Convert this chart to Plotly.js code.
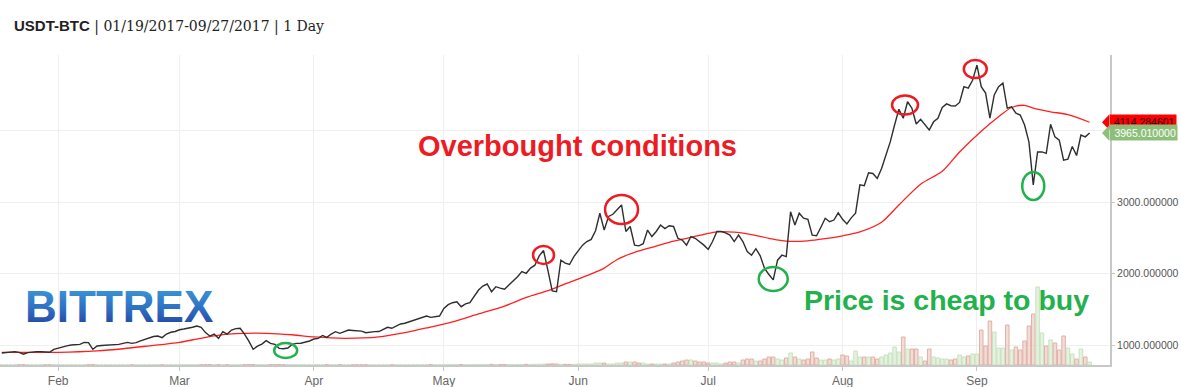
<!DOCTYPE html>
<html>
<head>
<meta charset="utf-8">
<script src="https://cdn.plot.ly/plotly-3.0.1.min.js"></script>
<style>html,body{margin:0;padding:0;background:#fff;}#chart{width:1181px;height:387px;}</style>
</head>
<body>
<div id="chart"></div>
<script>
// ---- Data ----
// Daily USDT-BTC closes, month by month (January starts on the 19th)
const priceJan = [895,900,905,915,905,878,900,910,915,915,910,905,945];
const priceFeb = [965,983,995,1007,1010,1016,1044,1040,947,993,1000,1002,1007,1010,1016,1030,1044,1030,1040,1065,1086,1110,1125,1132,1110,1160,1185,1195];
const priceMar = [1220,1230,1240,1255,1272,1254,1180,1132,1160,1100,1193,1160,1216,1235,1240,1160,1060,947,990,1020,1067,1030,1016,960,955,965,1016,1030,1032,1045,1063];
const priceApr = [1090,1100,1140,1114,1160,1193,1170,1195,1216,1210,1206,1200,1179,1190,1193,1195,1225,1254,1240,1270,1300,1310,1330,1346,1370,1395,1411,1393,1405,1411];
const priceMay = [1518,1570,1597,1611,1541,1580,1597,1680,1774,1830,1858,1750,1820,1800,1784,1844,1900,1960,2030,2007,2080,2120,2250,2325,2050,1760,1750,2190,2150,2130,2240];
const priceJun = [2320,2400,2450,2480,2600,2845,2610,2800,2830,2890,2960,2590,2660,2400,2390,2420,2610,2520,2590,2680,2630,2670,2660,2495,2470,2400,2520,2495,2450,2400];
const priceJul = [2340,2450,2590,2590,2570,2540,2450,2540,2450,2310,2260,2350,2250,2075,1990,1915,2190,2260,2240,2866,2680,2845,2775,2760,2540,2530,2650,2775,2727,2750,2850];
const priceAug = [2760,2695,2780,2845,3240,3230,3410,3400,3330,3470,3650,3840,4075,4295,4170,4400,4310,4090,4155,4075,4005,4120,4170,4320,4370,4345,4340,4390,4610,4590,4700];
const priceSep = [4910,4610,4520,4170,4495,4610,4660,4310,4330,4240,4215,4075,3840,3240,3700,3700,3680,4085,3910,3865,3585,3600,3775,3650,3935,3910,3965];

// Daily volume (relative units), same days
const volJan = [0.2,0.2,0.2,0.2,0.2,0.3,0.2,0.2,0.2,0.2,0.2,0.2,0.3];
const volFeb = [0.2,0.2,0.2,0.2,0.2,0.2,0.2,0.3,0.4,0.3,0.2,0.2,0.2,0.2,0.2,0.2,0.2,0.2,0.2,0.2,0.2,0.3,0.3,0.3,0.2,0.2,0.3,0.2];
const volMar = [0.3,0.3,0.3,0.3,0.3,0.3,0.3,0.4,0.3,0.4,0.3,0.3,0.3,0.3,0.3,0.3,0.4,0.5,0.4,0.3,0.3,0.3,0.3,0.4,0.3,0.3,0.3,0.3,0.3,0.3,0.3];
const volApr = [0.3,0.3,0.3,0.3,0.3,0.3,0.3,0.2,0.2,0.2,0.2,0.2,0.2,0.2,0.2,0.2,0.2,0.2,0.2,0.3,0.3,0.2,0.2,0.3,0.3,0.3,0.4,0.3,0.3,0.3];
const volMay = [0.4,0.4,0.5,0.5,0.5,0.4,0.4,0.5,0.6,0.6,0.6,0.6,0.5,0.4,0.5,0.5,0.5,0.6,0.6,0.6,0.6,0.7,0.8,1,1,1.2,1,0.8,0.7,0.6,0.7];
const volJun = [1,1,1,1,2,2,2,1,1,2,2,3,3,3,2,2,1,1,1,1,1,1,2,3,4,5,5,4,3,3];
const volJul = [2,2,2,1,2,3,3,2,5,6,6,4,4,6,8,8,6,5,7,12,8,6,5,6,13,7,5,5,6,5,6];
const volAug = [10,9,4,14,8,8,8,8,6,8,10,12,18,13,28,16,16,16,8,4,16,8,7,6,6,5,6,10,8,9,11];
const volSep = [11,35,19,44,33,17,17,40,15,18,15,24,39,51,78,32,19,25,22,15,29,17,11,6,16,8,3];

// Moving average (red line), read at intervals
const maDates = ['2017-01-19','2017-01-26','2017-02-01','2017-02-10','2017-02-16','2017-02-22','2017-03-01','2017-03-05','2017-03-09','2017-03-14','2017-03-21','2017-03-27','2017-04-01','2017-04-08','2017-04-16','2017-04-22','2017-04-27','2017-05-03','2017-05-09','2017-05-15','2017-05-20','2017-05-25','2017-05-29','2017-06-03','2017-06-07','2017-06-10','2017-06-14','2017-06-18','2017-06-22','2017-06-26','2017-06-30','2017-07-03','2017-07-07','2017-07-11','2017-07-15','2017-07-19','2017-07-24','2017-07-28','2017-08-01','2017-08-05','2017-08-10','2017-08-14','2017-08-19','2017-08-24','2017-08-28','2017-09-02','2017-09-06','2017-09-09','2017-09-12','2017-09-14','2017-09-18','2017-09-22','2017-09-27'];
const maValues = [905,905,905,925,955,995,1045,1090,1135,1165,1170,1150,1120,1100,1120,1180,1245,1330,1440,1550,1670,1765,1860,1975,2080,2200,2300,2370,2440,2495,2550,2585,2580,2545,2495,2455,2460,2490,2530,2585,2720,2960,3250,3430,3700,3990,4190,4320,4350,4310,4260,4220,4114];

const lastMA = '4114.284601';
const lastPrice = '3965.010000';
const monthTicks = ['2017-02-01','2017-03-01','2017-04-01','2017-05-01','2017-06-01','2017-07-01','2017-08-01','2017-09-01'];
const monthLabels = ['Feb','Mar','Apr','May','Jun','Jul','Aug','Sep'];
const yTicks = [1000,2000,3000,4000];
const yTickText = ['1000.000000','2000.000000','3000.000000',''];

// ---- Build series ----
const months = [
  {m:1, start:19, p:priceJan, v:volJan},
  {m:2, start:1, p:priceFeb, v:volFeb},
  {m:3, start:1, p:priceMar, v:volMar},
  {m:4, start:1, p:priceApr, v:volApr},
  {m:5, start:1, p:priceMay, v:volMay},
  {m:6, start:1, p:priceJun, v:volJun},
  {m:7, start:1, p:priceJul, v:volJul},
  {m:8, start:1, p:priceAug, v:volAug},
  {m:9, start:1, p:priceSep, v:volSep}
];
const pad = n => (n < 10 ? '0' : '') + n;
const dates = [], price = [], volume = [];
months.forEach(o => {
  o.p.forEach((val, i) => {
    dates.push('2017-' + pad(o.m) + '-' + pad(o.start + i));
    price.push(val);
    volume.push(o.v[i]);
  });
});
const barFill = [], barLine = [];
price.forEach((p, i) => {
  const up = i === 0 || p >= price[i - 1];
  barFill.push(up ? 'rgba(220,238,212,0.75)' : 'rgba(234,196,186,0.6)');
  barLine.push(up ? 'rgba(196,224,186,0.9)' : 'rgba(222,172,160,0.9)');
});

const traces = [
  {type:'bar', x:dates, y:volume, xaxis:'x', yaxis:'y', width:86400000*0.82,
   marker:{color:barFill, line:{color:barLine, width:1}}, hoverinfo:'skip'},
  {type:'scatter', mode:'lines', x:maDates, y:maValues, xaxis:'x', yaxis:'y2',
   line:{color:'#ff1f1f', width:1.3, shape:'spline', smoothing:0.8}, hoverinfo:'skip'},
  {type:'scatter', mode:'lines', x:dates, y:price, xaxis:'x', yaxis:'y2',
   line:{color:'#2e2e2e', width:1.4}, hoverinfo:'skip'}
];

const RED = '#ed1c24', GREEN = '#22b14c';
function ring(xc, yc, w, h, color) {
  return {type:'circle', xref:'x', yref:'y2', xsizemode:'pixel', ysizemode:'pixel',
    xanchor:xc, yanchor:yc, x0:-w/2, x1:w/2, y0:-h/2, y1:h/2,
    line:{color:color, width:2.5}, fillcolor:'rgba(0,0,0,0)', layer:'above'};
}
function tip(yv, color) {
  return {type:'path', xref:'paper', yref:'y2', xsizemode:'pixel', ysizemode:'pixel',
    xanchor:1, yanchor:yv, path:'M -8 0 L -1 7.5 L -1 -7.5 Z',
    fillcolor:color, line:{width:0}, layer:'above'};
}

const shapes = [
  ring('2017-05-24', 2262, 21, 18, RED),
  ring('2017-06-11', 2897, 33, 29, RED),
  ring('2017-08-15 10:00', 4354, 26, 19, RED),
  ring('2017-08-31 15:00', 4856, 23, 18, RED),
  ring('2017-03-25 12:00', 930, 23, 15, GREEN),
  ring('2017-07-16', 1927, 29, 24, GREEN),
  ring('2017-09-14', 3225, 22, 28, GREEN),
  tip(4114.28, '#ff0000'),
  tip(3965.01, '#8dbf7b')
];

const sans = 'Liberation Sans, Arial, Helvetica, sans-serif';
const annotations = [
  {xref:'paper', yref:'paper', x:12/1110, y:1.0926, xanchor:'left', yanchor:'middle', showarrow:false,
   text:'<span style="font-family:Liberation Sans, Arial, sans-serif;font-weight:bold;font-size:15px">USDT-BTC</span> | 01/19/2017-09/27/2017 | 1 Day',
   font:{family:'DejaVu Serif, serif', size:14, color:'#222'}},
  {xref:'paper', yref:'paper', x:577/1110, y:0.7065, xanchor:'center', yanchor:'middle', showarrow:false,
   text:'<b>Overbought conditions</b>', font:{family:sans, size:29, color:RED}},
  {xref:'paper', yref:'paper', x:947/1110, y:0.2097, xanchor:'center', yanchor:'middle', showarrow:false,
   text:'<b>Price is cheap to buy</b>', font:{family:sans, size:28.5, color:GREEN}},
  {xref:'paper', yref:'paper', x:119/1110, y:0.188, xanchor:'center', yanchor:'middle', showarrow:false,
   text:'<b>BITTREX</b>', font:{family:sans, size:44, color:'#2b62b8'}},
  {xref:'paper', yref:'y2', x:1, y:4114.28, xanchor:'left', yanchor:'middle', xshift:-1, showarrow:false,
   text:'&nbsp;' + lastMA, align:'left', bgcolor:'#ff0000', borderpad:1,
   font:{family:sans, size:10.5, color:'#2a0000'}},
  {xref:'paper', yref:'y2', x:1, y:3965.01, xanchor:'left', yanchor:'middle', xshift:-1, showarrow:false,
   text:'&nbsp;' + lastPrice, align:'left', bgcolor:'#8dbf7b', borderpad:1.5,
   font:{family:sans, size:10.5, color:'#ffffff'}}
];

const layout = {
  width:1181, height:387,
  margin:{l:0, r:71, t:55, b:22, pad:0},
  paper_bgcolor:'#ffffff', plot_bgcolor:'#ffffff',
  showlegend:false, bargap:0,
  xaxis:{type:'date', range:['2017-01-18 14:00','2017-10-01 17:00'],
    tickvals:monthTicks, ticktext:monthLabels,
    showgrid:true, gridcolor:'#efefef', gridwidth:1,
    ticks:'outside', ticklen:4, tickcolor:'#c8c8c8', tickwidth:1,
    showline:true, linecolor:'#c8c8c8', linewidth:2,
    tickfont:{family:sans, size:12, color:'#666'}, zeroline:false, fixedrange:true},
  yaxis:{range:[0,310], visible:false, showgrid:false, zeroline:false, fixedrange:true},
  yaxis2:{overlaying:'y', side:'right', range:[728,5052],
    tickvals:yTicks, ticktext:yTickText,
    showgrid:true, gridcolor:'#efefef', gridwidth:1,
    showline:true, linecolor:'#c8c8c8', linewidth:2,
    ticks:'outside', ticklen:3, tickcolor:'#c8c8c8',
    tickfont:{family:sans, size:10.5, color:'#555'}, zeroline:false, fixedrange:true},
  shapes:shapes,
  annotations:annotations
};

Plotly.newPlot('chart', traces, layout, {staticPlot:true, displayModeBar:false}).then(() => {
  // blue gradient on the BITTREX logo text
  const svg = document.querySelector('#chart svg.main-svg');
  const ns = 'http://www.w3.org/2000/svg';
  let defs = svg.querySelector('defs');
  if (!defs) { defs = document.createElementNS(ns, 'defs'); svg.insertBefore(defs, svg.firstChild); }
  const g = document.createElementNS(ns, 'linearGradient');
  g.setAttribute('id', 'bxgrad'); g.setAttribute('x1', '0'); g.setAttribute('y1', '0');
  g.setAttribute('x2', '0'); g.setAttribute('y2', '1');
  [['0%','#3fa2de'],['55%','#2d6fc2'],['100%','#23399a']].forEach(s => {
    const st = document.createElementNS(ns, 'stop');
    st.setAttribute('offset', s[0]); st.setAttribute('stop-color', s[1]);
    g.appendChild(st);
  });
  defs.appendChild(g);
  document.querySelectorAll('#chart .annotation-text').forEach(t => {
    if (t.textContent.indexOf('BITTREX') >= 0) {
      t.style.fill = 'url(#bxgrad)';
      t.querySelectorAll('tspan').forEach(ts => { ts.style.fill = 'url(#bxgrad)'; });
    }
  });
});
</script>
</body>
</html>
